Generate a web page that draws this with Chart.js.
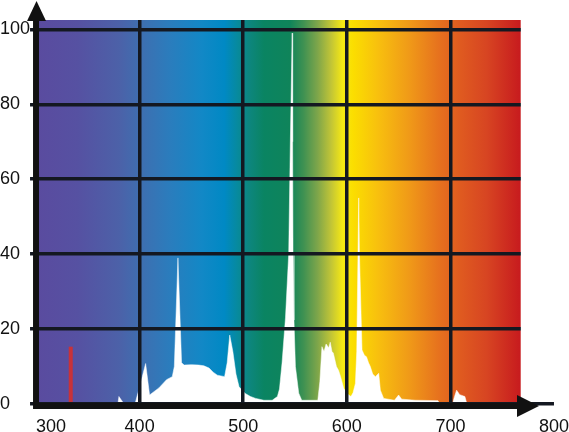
<!DOCTYPE html>
<html>
<head>
<meta charset="utf-8">
<script src="https://cdn.jsdelivr.net/npm/chart.js@4.4.1/dist/chart.umd.min.js"></script>
<style>
  html, body { margin: 0; padding: 0; background: #fff; }
  #wrap { width: 569px; height: 432px; }
</style>
</head>
<body>
<div id="wrap"><canvas id="spectrumChart"></canvas></div>
<script>
// wavelength (nm) / relative intensity
var wavelengths = [300, 379, 380, 385, 395.5, 401, 405.8, 409.6, 418.6, 426, 431.5, 433.5, 437, 440.5, 443,
  450, 457, 462, 467, 471, 475, 482, 484.5, 487, 490, 493, 496, 502, 507, 512, 520, 528, 533, 535,
  537.5, 540.8, 543.9, 545.5, 547.3, 547.7, 548.1, 549, 550.4, 553.6, 556.5, 572, 574, 576, 578, 580,
  582.5, 584, 585.7, 587, 590, 592, 594, 597, 600, 602, 604, 606, 608.3, 609.6, 610.8, 611.5, 612.2,
  614.7, 617, 619, 621, 622.7, 625, 627.6, 630.8, 632.4, 635.6, 646, 650, 653, 666, 688, 690, 702,
  704, 706, 709, 714, 716, 768];
var intensity = [0, 0, 2, 0, 0, 5.6, 10.8, 2.4, 4.3, 6.5, 7.3, 10, 39, 11, 10.4,
  10.5, 10.4, 10.2, 9.6, 8.5, 7.7, 7.3, 11, 18.4, 14, 8, 4.6, 2.8, 2, 1.5, 1, 1, 2, 4,
  11, 23, 40, 70, 99, 70, 40, 22.4, 10, 2.9, 1, 1, 6, 15.3, 14, 16,
  15, 16.5, 14, 13.6, 10, 9, 7.3, 4.2, 2.9, 2.4, 2, 3, 5.5, 14, 40, 55, 40,
  14.4, 13, 12.6, 11, 10, 8, 7.3, 8.2, 3.7, 1.5, 1, 2.4, 1.3, 1, 0.9, 0, 0,
  2, 3.7, 2.5, 2, 0, 0];

// UV line
var uvLine = [333.5, 15.3];

var xTicks = [300, 400, 500, 600, 700, 800];
var yTicks = [0, 20, 40, 60, 80, 100];
var visibleEnd = 768;

var spectrumStops = [
  [300, '#5a4b9f'], [340, '#5651a2'], [380, '#4c61a8'], [400, '#3f6eb0'], [430, '#2a7dbd'],
  [460, '#1288c6'], [482, '#0089c4'], [495, '#078a9c'], [505, '#0d8680'], [520, '#0a8462'],
  [545, '#0f845a'], [558, '#3e9152'], [572, '#7fa64a'], [585, '#c2c536'], [596, '#f5e814'],
  [606, '#fbde00'], [630, '#f8c00e'], [660, '#f09a18'], [690, '#e6701e'], [710, '#df5a20'],
  [735, '#d74522'], [768, '#c71a1e']
];

const CHART = document.getElementById('spectrumChart');
const GRID = '#141821';
const INK = '#111';

var spectrumBg = {
  id: 'spectrumBg',
  beforeDatasetsDraw: function(chart) {
    var a = chart.chartArea, x = chart.scales.x;
    var x0 = x.getPixelForValue(300), x1 = x.getPixelForValue(visibleEnd);
    var ctx = chart.ctx;
    var g = ctx.createLinearGradient(x0, 0, x1, 0);
    spectrumStops.forEach(function(s) {
      g.addColorStop((s[0] - 300) / (visibleEnd - 300), s[1]);
    });
    ctx.save();
    ctx.fillStyle = g;
    ctx.fillRect(x0, a.top, x1 - x0, a.bottom - a.top);
    ctx.restore();
  },
  afterDraw: function(chart) {
    var a = chart.chartArea, x = chart.scales.x;
    var ctx = chart.ctx;
    var x1 = x.getPixelForValue(visibleEnd);
    ctx.save();
    // blank the part of the plot past the visible spectrum
    ctx.fillStyle = '#fff';
    ctx.fillRect(x1, a.top - 2, a.right - x1 + 10, a.bottom - a.top);
    // axes with arrow heads
    ctx.strokeStyle = INK;
    ctx.fillStyle = INK;
    ctx.lineWidth = 6;
    var ax = a.left, ay = a.bottom + 2;
    ctx.beginPath();
    ctx.moveTo(ax, ay + 3);
    ctx.lineTo(ax, 18);
    ctx.moveTo(ax - 3, ay);
    ctx.lineTo(520, ay);
    ctx.stroke();
    ctx.beginPath();
    ctx.moveTo(ax + 0.5, 1);
    ctx.lineTo(ax + 10, 21);
    ctx.lineTo(ax - 9, 21);
    ctx.closePath();
    ctx.fill();
    ctx.beginPath();
    ctx.moveTo(539, ay);
    ctx.lineTo(517, ay - 11);
    ctx.lineTo(517, ay + 11);
    ctx.closePath();
    ctx.fill();
    ctx.restore();
  }
};

var lineChart = new Chart(CHART, {
  type: 'line',
  data: {
    datasets: [
      {
        label: 'Spectrum',
        data: wavelengths.map(function(w, i) { return { x: w, y: intensity[i] }; }),
        fill: 'origin',
        backgroundColor: '#ffffff',
        borderColor: '#ffffff',
        borderWidth: 0.5,
        pointRadius: 0,
        tension: 0
      },
      {
        label: 'UV',
        data: [{ x: uvLine[0], y: 0 }, { x: uvLine[0], y: uvLine[1] }],
        borderColor: '#c8323a',
        borderWidth: 4,
        pointRadius: 0,
        fill: false
      }
    ]
  },
  options: {
    responsive: true,
    maintainAspectRatio: false,
    animation: false,
    layout: { padding: { top: 20, left: 0, right: 0, bottom: -4 } },
    plugins: {
      legend: { display: false },
      tooltip: { enabled: false }
    },
    scales: {
      x: {
        type: 'linear',
        min: 300,
        max: 800,
        offset: false,
        afterBuildTicks: function(s) { s.ticks = xTicks.map(function(v) { return { value: v }; }); },
        grid: {
          z: 1,
          lineWidth: 3.5,
          tickLength: 14,
          tickColor: 'rgba(0,0,0,0)',
          color: function(c) { return c.tick && c.tick.value > visibleEnd ? 'rgba(0,0,0,0)' : GRID; }
        },
        border: { display: false },
        ticks: {
          padding: 0,
          maxRotation: 0,
          color: INK,
          font: { family: "'Liberation Sans', Arial, sans-serif", size: 18, lineHeight: 1 },
          callback: function(v) { return v === 300 ? '      300' : String(v); }
        }
      },
      y: {
        min: 0,
        max: 102.5,
        afterBuildTicks: function(s) { s.ticks = yTicks.map(function(v) { return { value: v }; }); },
        grid: { z: 1, lineWidth: 3.5, tickLength: 6, color: GRID },
        border: { display: false },
        ticks: {
          padding: 0,
          crossAlign: 'far',
          color: INK,
          font: { family: "'Liberation Sans', Arial, sans-serif", size: 18 }
        }
      }
    }
  },
  plugins: [spectrumBg]
});
</script>
</body>
</html>
